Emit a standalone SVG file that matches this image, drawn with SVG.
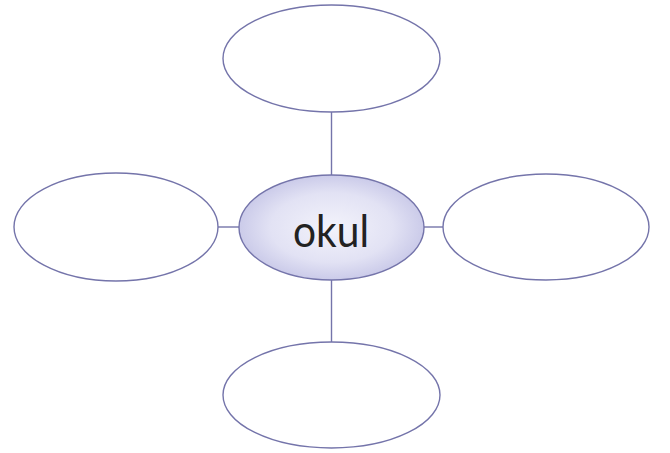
<svg xmlns="http://www.w3.org/2000/svg" width="670" height="453" viewBox="0 0 670 453">
<defs>
<radialGradient id="cg" cx="0.5" cy="0.5" r="0.55">
<stop offset="0" stop-color="#f3f3fb"/>
<stop offset="0.6" stop-color="#e2e2f4"/>
<stop offset="1" stop-color="#c4c4e6"/>
</radialGradient>
<style>
.e{fill:#fff;stroke:#7474aa;stroke-width:1.4}
.c{fill:url(#cg);stroke:#7474aa;stroke-width:1.4}
.l{stroke:#7474aa;stroke-width:1.4;fill:none}
.t{font-family:Lato,"Liberation Sans",Arial,sans-serif;font-weight:400;font-size:45px;fill:#222;text-anchor:middle}
</style>
</defs>
<rect width="670" height="453" fill="#fff"/>
<g id="connectors">
<line class="l" x1="331.5" y1="112" x2="331.5" y2="175"/>
<line class="l" x1="331.5" y1="280" x2="331.5" y2="342"/>
<line class="l" x1="218" y1="227" x2="239" y2="227"/>
<line class="l" x1="424" y1="227" x2="443" y2="227"/>
</g>
<g id="node-top"><ellipse class="e" cx="331.5" cy="58.5" rx="108.5" ry="53.5"/></g>
<g id="node-left"><ellipse class="e" cx="116" cy="227" rx="102" ry="54"/></g>
<g id="node-right"><ellipse class="e" cx="546" cy="227" rx="103" ry="53"/></g>
<g id="node-bottom"><ellipse class="e" cx="331.5" cy="395" rx="108.5" ry="53"/></g>
<g id="node-center"><ellipse class="c" cx="331.5" cy="227.5" rx="92.5" ry="52.5"/>
<text class="t" x="331" y="247" textLength="76" lengthAdjust="spacingAndGlyphs">okul</text></g>
</svg>
